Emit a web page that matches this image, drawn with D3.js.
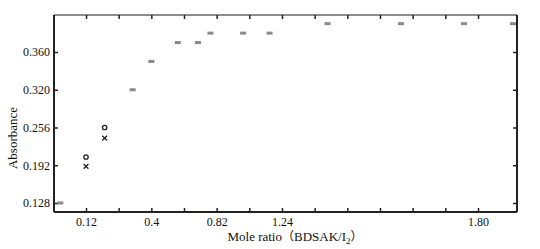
<!DOCTYPE html>
<html lang="en">
<head>
<meta charset="utf-8">
<script src="https://d3js.org/d3.v7.min.js"></script>
<style>
  body { margin: 0; background: #fff; }
  text { font-family: "Liberation Serif", "Times New Roman", serif; fill: #111; }
</style>
</head>
<body>
<script>
// mole ratio (x) and the two absorbance readings at each point
var moleRatio = [0.01, 0.12, 0.20, 0.32, 0.40, 0.57, 0.70, 0.78, 0.99, 1.16, 1.37, 1.58, 1.76, 1.90];
var absO      = [0.128, 0.206, 0.256, 0.320, 0.350, 0.370, 0.370, 0.380, 0.380, 0.380, 0.390, 0.390, 0.390, 0.390];
var absX      = [0.128, 0.190, 0.238, 0.320, 0.350, 0.370, 0.370, 0.380, 0.380, 0.380, 0.390, 0.390, 0.390, 0.390];

// axis labels and which tick slot they sit on (axes are not linear in the original)
var xTickLabels = ["0.12", "0.4", "0.82", "1.24", "1.80"];
var xTickSlots  = [0, 2, 4, 6, 12];
var yTickLabels = ["0.128", "0.192", "0.256", "0.320", "0.360"];
var yTickSlots  = [0, 1, 2, 3, 4];

var W = 540, H = 249;
var pL = 54, pR = 517, pT = 15, pB = 212;
var x0 = 86, xStep = (478 - 86) / 12;
var y0 = 203, yStep = (203 - 52) / 4;

var svg = d3.select("body").append("svg")
    .attr("width", W)
    .attr("height", H);

var x = d3.scaleLinear()
    .domain(xTickLabels.map(Number))
    .range(xTickSlots.map(function (s) { return x0 + s * xStep; }));

var y = d3.scaleLinear()
    .domain(yTickLabels.map(Number))
    .range(yTickSlots.map(function (s) { return y0 - s * yStep; }));

var xTicks = d3.range(13).map(function (i) { return x.invert(x0 + i * xStep); });
var xFmt = function (d, i) {
    var k = xTickSlots.indexOf(i);
    return k < 0 ? "" : xTickLabels[k];
};
var yTicks = yTickLabels.map(Number);

// frame (top and right)
svg.append("line").attr("x1", pL).attr("x2", pR).attr("y1", pT).attr("y2", pT)
    .attr("stroke", "#666").attr("stroke-width", 1.5);
svg.append("line").attr("x1", pR).attr("x2", pR).attr("y1", pT).attr("y2", pB)
    .attr("stroke", "#222").attr("stroke-width", 2);

var gx = svg.append("g")
    .attr("transform", "translate(0," + pB + ")")
    .call(d3.axisBottom(x).tickValues(xTicks).tickFormat(xFmt).tickSizeInner(-4).tickSizeOuter(0).tickPadding(5));
gx.select(".domain").attr("d", "M" + pL + ",0H" + pR).attr("stroke", "#222").attr("stroke-width", 2);

var gxTop = svg.append("g")
    .attr("transform", "translate(0," + pT + ")")
    .call(d3.axisTop(x).tickValues(xTicks).tickFormat("").tickSizeInner(-4).tickSizeOuter(0));
gxTop.select(".domain").remove();

var gy = svg.append("g")
    .attr("transform", "translate(" + pL + ",0)")
    .call(d3.axisLeft(y).tickValues(yTicks).tickFormat(function (d, i) { return yTickLabels[i]; })
        .tickSizeInner(-4).tickSizeOuter(0).tickPadding(4));
gy.select(".domain").attr("d", "M0," + pT + "V" + pB).attr("stroke", "#222").attr("stroke-width", 2);

var gyRight = svg.append("g")
    .attr("transform", "translate(" + pR + ",0)")
    .call(d3.axisRight(y).tickValues(yTicks).tickFormat("").tickSizeInner(-4).tickSizeOuter(0));
gyRight.select(".domain").remove();

svg.selectAll(".tick line").attr("stroke", "#222").attr("stroke-width", 1.5);
svg.selectAll(".tick text").style("font-size", "12px").attr("fill", "#111")
    .style("font-family", "'Liberation Serif', serif");

// points
var pts = moleRatio.map(function (m, i) { return { m: m, o: absO[i], x: absX[i] }; });

svg.selectAll("rect.dash")
    .data(pts.filter(function (d) { return d.o === d.x; }))
    .enter().append("rect")
    .attr("class", "dash")
    .attr("x", function (d) { return x(d.m) - 3; })
    .attr("y", function (d) { return y(d.o) - 1.5; })
    .attr("width", 6)
    .attr("height", 3)
    .attr("fill", "#8a8a8a");

var split = pts.filter(function (d) { return d.o !== d.x; });

svg.selectAll("circle.o")
    .data(split)
    .enter().append("circle")
    .attr("class", "o")
    .attr("cx", function (d) { return x(d.m); })
    .attr("cy", function (d) { return y(d.o); })
    .attr("r", 2.2)
    .attr("fill", "none")
    .attr("stroke", "#222")
    .attr("stroke-width", 1.3);

svg.selectAll("path.x")
    .data(split)
    .enter().append("path")
    .attr("class", "x")
    .attr("d", function (d) {
        var cx = x(d.m), cy = y(d.x), s = 2.4;
        return "M" + (cx - s) + "," + (cy - s) + "L" + (cx + s) + "," + (cy + s) +
               "M" + (cx - s) + "," + (cy + s) + "L" + (cx + s) + "," + (cy - s);
    })
    .attr("stroke", "#222")
    .attr("stroke-width", 1.3);

// axis titles
svg.append("text")
    .attr("transform", "translate(17,138) rotate(-90)")
    .attr("text-anchor", "middle")
    .style("font-size", "13px")
    .text("Absorbance");

var xt = svg.append("text")
    .attr("x", 295)
    .attr("y", 241)
    .attr("text-anchor", "middle")
    .style("font-size", "13px");
xt.append("tspan").text("Mole ratio");
xt.append("tspan").style("font-family", "'Noto Sans CJK SC', sans-serif").style("font-size", "12px").text("（");
xt.append("tspan").text("BDSAK/I");
xt.append("tspan").attr("dy", 3).style("font-size", "9px").text("2");
xt.append("tspan").attr("dy", -3).style("font-family", "'Noto Sans CJK SC', sans-serif").style("font-size", "12px").text("）");
</script>
</body>
</html>
